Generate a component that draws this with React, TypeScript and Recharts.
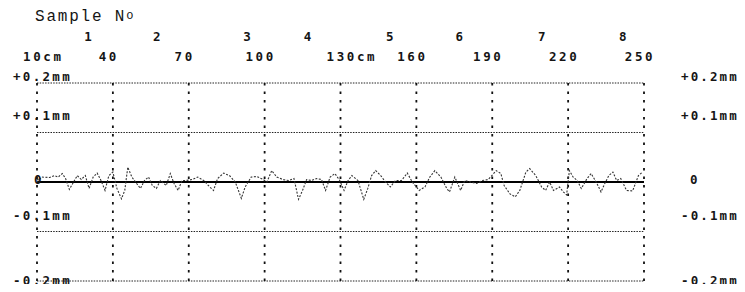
import React from 'react';
import { ComposedChart, Line, XAxis, YAxis, CartesianGrid, ReferenceLine } from 'recharts';

// Position along the sample (cm) and surface deviation (mm)
const positionsCm = [
  10.0, 11.9, 15.0, 16.9, 18.4, 20.0, 21.3, 22.8, 25.9, 27.5, 29.1, 30.6, 32.2, 33.8, 35.3, 36.9, 38.4,
  40.0, 41.6, 43.4, 44.7, 45.9, 47.5, 49.4, 50.9, 52.5, 54.1, 55.6, 57.2, 58.8, 61.1, 62.7, 64.2, 65.8, 67.3, 68.9,
  71.3, 73.6, 75.9, 78.3, 79.8, 81.4, 83.8, 86.1, 88.4, 90.8, 92.3, 94.7, 97.0, 99.4,
  100.9, 102.8, 104.8, 107.2, 109.5, 111.6, 113.4, 115.0, 116.6, 118.4, 120.5, 122.5, 124.1, 125.9, 127.8, 129.7,
  131.4, 133.0, 134.5, 136.9, 139.2, 140.8, 142.3, 143.9, 145.9, 147.8, 149.7, 151.7, 154.1, 156.4, 158.4,
  161.1, 163.4, 165.3, 167.3, 169.7, 172.0, 173.1, 175.2, 177.5, 179.1, 181.4, 183.8, 186.1, 188.4,
  191.6, 193.4, 194.7, 197.0, 199.1, 200.9, 203.3, 204.8, 207.2, 209.5, 211.1, 212.7, 214.2, 216.6, 218.1, 219.4,
  220.5, 222.0, 223.6, 225.2, 227.5, 229.1, 231.4, 233.0, 234.5, 236.1, 237.7, 239.2, 240.8, 243.1, 245.5, 247.8, 249.4,
];
const deviationMm = [
  0, 0.010, 0.009, 0.013, 0.010, 0.017, 0.007, -0.015, 0.013, 0.005, 0.013, -0.013, 0.010, 0.018, 0.003, -0.017, 0.013,
  0.020, -0.013, -0.034, -0.017, 0.030, 0.010, -0.003, -0.013, 0.003, 0.010, -0.007, -0.013, 0.003, -0.007, 0.017, -0.003, -0.017, 0.003, 0.003,
  0.005, 0.010, 0.003, -0.010, -0.017, 0.007, 0.018, 0.013, 0, -0.033, -0.010, 0.010, 0.011, 0.005,
  0, 0.023, 0.010, 0.005, 0.003, 0.007, -0.035, -0.017, 0.005, 0.003, 0.007, 0.005, -0.017, 0.010, 0.017, 0.003,
  -0.017, 0.003, 0.013, 0.003, -0.035, -0.013, 0.013, 0.023, 0.013, 0, -0.010, 0.003, 0.003, 0.018, 0,
  -0.017, -0.010, 0.010, 0.023, 0.010, -0.013, -0.020, 0.010, -0.017, 0.003, 0, -0.003, 0.003, 0.005,
  0.023, 0.017, -0.007, -0.024, -0.030, -0.017, 0.020, 0.027, 0.013, -0.010, -0.017, 0, -0.017, -0.010, -0.020, -0.026,
  0.023, 0.010, 0.003, -0.013, 0.007, 0.017, -0.003, -0.020, -0.003, 0.013, 0.020, 0.003, 0.007, -0.017, -0.018, 0.013, 0.020,
];

const cmTicks = [10, 40, 70, 100, 130, 160, 190, 220, 250];
const cmTickLabels = ['10cm', '40', '70', '100', '130cm', '160', '190', '220', '250'];
const sampleNos = ['1', '2', '3', '4', '5', '6', '7', '8'];
const samplePositionsCm = [30.2, 57.4, 93, 117, 149.5, 177, 209.6, 241.6];
const mmTicks = [0.2, 0.1, 0, -0.1, -0.2];
const mmTickLabels = ['+0.2mm', '+0.1mm', '0', '-0.1mm', '-0.2mm'];

const data = positionsCm.map((cm, i) => ({ cm, mm: deviationMm[i] }));

const FONT = '"DejaVu Sans Mono", "Liberation Mono", monospace';
const labelLift: Record<string, number> = { '0.2': -7, '0.1': -17, '0': -3, '-0.1': -16, '-0.2': -1 };

const textStyle = {
  fontFamily: FONT,
  fontSize: 12.5,
  fontWeight: 600,
  letterSpacing: 2.6,
  fill: '#151515',
} as const;

const CmTick = (props: any) => {
  const { x, payload, index } = props;
  const label = cmTickLabels[index] ?? String(payload.value);
  const hasUnit = label.endsWith('cm');
  return (
    <text x={hasUnit ? x - 14 : x - 4} y={53} textAnchor={hasUnit ? 'start' : 'middle'} {...textStyle}>
      {label}
    </text>
  );
};

const SampleTick = (props: any) => {
  const { x, index } = props;
  return (
    <text x={x} y={33} textAnchor="middle" {...textStyle} letterSpacing={0}>
      {sampleNos[index]}
    </text>
  );
};

// Left axis tick draws the scale text on both sides of the plot.
const MmTick = (props: any) => {
  const { y, payload, index } = props;
  const label = mmTickLabels[index];
  const lift = labelLift[String(payload.value)] ?? 0;
  const isZero = label === '0';
  const ty = y + lift + 4.5;
  return (
    <g>
      <text x={isZero ? 26 : 5} y={ty} textAnchor="start" {...textStyle} letterSpacing={2.3}>
        {label}
      </text>
      <text x={isZero ? 682 : 673} y={ty} textAnchor="start" {...textStyle} letterSpacing={2.1}>
        {label}
      </text>
    </g>
  );
};

export default function App() {
  return (
    <div style={{ position: 'relative', width: 729, height: 276 }}>
      <div
        style={{
          position: 'absolute',
          left: 27,
          top: 0,
          fontFamily: '"Liberation Mono", "DejaVu Sans Mono", monospace',
          fontSize: 16,
          lineHeight: '16px',
          letterSpacing: 1.8,
          color: '#151515',
          whiteSpace: 'pre',
          zIndex: 1,
        }}
      >
        Sample N<span style={{ fontSize: 12, verticalAlign: 2 }}>o</span>
      </div>
      <ComposedChart
        width={737}
        height={283}
        data={data}
        margin={{ top: 0, right: 101, bottom: 10, left: 0 }}
        style={{ overflow: 'visible' }}
      >
        <XAxis
          xAxisId="sample"
          type="number"
          dataKey="cm"
          domain={[10, 250]}
          ticks={samplePositionsCm}
          orientation="top"
          height={35}
          axisLine={false}
          tickLine={false}
          tick={SampleTick}
          interval={0}
          allowDataOverflow
        />
        <XAxis
          xAxisId="cm"
          type="number"
          dataKey="cm"
          domain={[10, 250]}
          ticks={cmTicks}
          orientation="top"
          height={40}
          axisLine={false}
          tickLine={false}
          tick={CmTick}
          interval={0}
          allowDataOverflow
        />
        <YAxis
          yAxisId="left"
          orientation="left"
          type="number"
          domain={[-0.2, 0.2]}
          ticks={mmTicks}
          width={29}
          axisLine={false}
          tickLine={false}
          tick={MmTick}
          interval={0}
        />
        <CartesianGrid
          xAxisId="cm"
          yAxisId="left"
          vertical={false}
          horizontal
          stroke="#222"
          strokeWidth={1}
          strokeDasharray="1.5 1.2"
        />
        <CartesianGrid
          xAxisId="cm"
          yAxisId="left"
          horizontal={false}
          vertical
          stroke="#111"
          strokeWidth={1.8}
          strokeDasharray="2.5 6"
        />
        <ReferenceLine xAxisId="cm" yAxisId="left" y={0} stroke="#000" strokeWidth={2} />
        <Line
          xAxisId="cm"
          yAxisId="left"
          type="linear"
          dataKey="mm"
          stroke="#333"
          strokeWidth={1.1}
          strokeDasharray="2 1.5"
          dot={false}
          isAnimationActive={false}
        />
      </ComposedChart>
    </div>
  );
}
